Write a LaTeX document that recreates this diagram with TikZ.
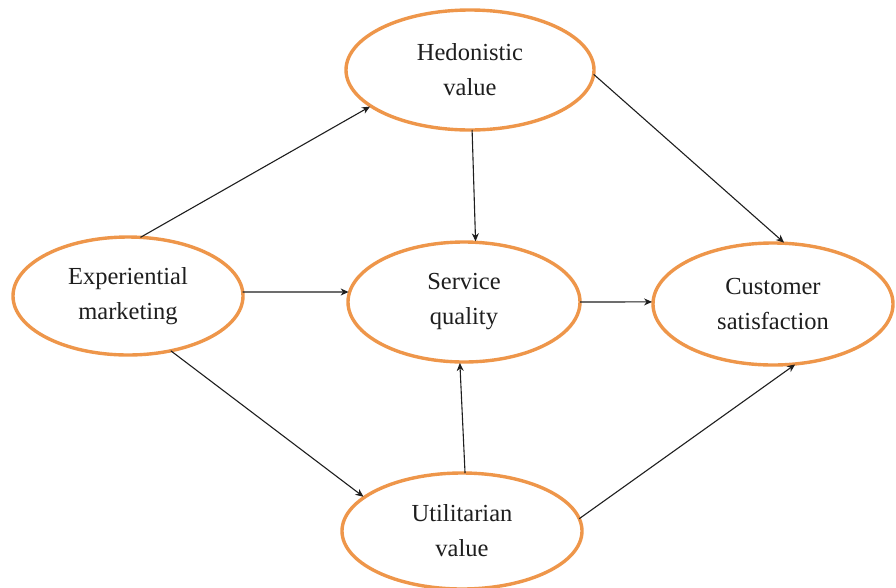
\documentclass[tikz,border=0pt]{standalone}
\usepackage{fontspec}
\setmainfont{Liberation Serif}
\usetikzlibrary{shapes.geometric,arrows.meta}
\definecolor{ringorange}{RGB}{238,150,74}
\definecolor{inkgray}{RGB}{30,30,30}
\begin{document}
\begin{tikzpicture}[x=1pt,y=-1pt,
  construct/.style={ellipse, draw=ringorange, line width=3.4pt, fill=white,
    inner sep=0pt, outer sep=0pt, align=center, text=inkgray,
    font=\fontsize{24.5}{35}\selectfont},
  link/.style={line width=1.1pt, draw=inkgray,
    -{Stealth[length=8pt,width=7pt,inset=2.5pt]}, shorten >=1pt}]
\useasboundingbox (0,0) rectangle (896,587);
\node[construct, minimum width=248pt, minimum height=120pt] (hed) at (470,70) {Hedonistic\\value};
\node[construct, minimum width=230pt, minimum height=118pt] (exp) at (128,296) {Experiential\\marketing};
\node[construct, minimum width=232pt, minimum height=120pt] (ser) at (464,302) {Service\\quality};
\node[construct, minimum width=240pt, minimum height=122pt] (cus) at (773,304) {Customer\\satisfaction};
\node[construct, minimum width=240pt, minimum height=116pt] (uti) at (462,531) {Utilitarian\\value};
\draw[link] (exp.78) -- (hed.200);
\draw[link] (hed.272) -- (ser.79);
\draw[link] (hed.-2) -- (cus.79);
\draw[link] (exp.2) -- (ser.175);
\draw[link] (ser.0) -- (cus.179);
\draw[link] (exp.308) -- (uti.161);
\draw[link] (uti.87) -- (ser.266);
\draw[link] (uti.6) -- (cus.291);
\end{tikzpicture}
\end{document}
